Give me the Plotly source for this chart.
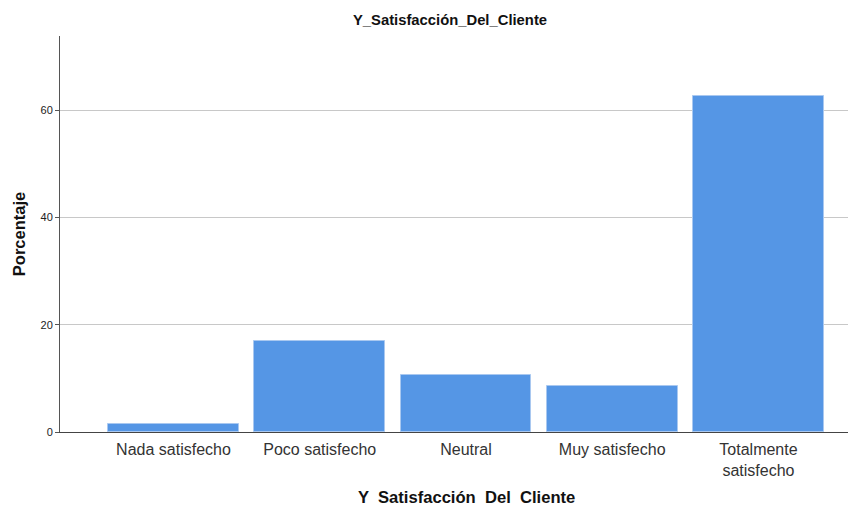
import plotly.graph_objects as go

categorias = ["Nada satisfecho", "Poco satisfecho", "Neutral", "Muy satisfecho", "Totalmente<br>satisfecho"]
porcentaje = [1.4, 16.9, 10.6, 8.5, 62.7]
y_ticks = [0, 20, 40, 60]

fig = go.Figure(go.Bar(
    x=categorias, y=porcentaje,
    width=0.895,
    marker=dict(color="#5596E5", line=dict(color="#A9C8F0", width=1)),
))

# page body has an 8px margin, so the figure is sized/offset to compensate
fig.update_layout(
    width=856, height=498,
    margin=dict(l=52, r=8, t=28, b=74),
    paper_bgcolor="white", plot_bgcolor="white",
    font=dict(family="Liberation Sans, Arial, sans-serif", color="#222"),
    title=dict(text="<b>Y_Satisfacción_Del_Cliente</b>", x=442 / 856, xanchor="center",
               y=0.976, yanchor="middle", font=dict(size=14.8, color="#111")),
    showlegend=False,
    bargap=0,
    annotations=[dict(
        text="<b>Y  Satisfacción  Del  Cliente</b>", xref="paper", yref="paper",
        x=(466 - 60) / 796, y=-0.165, xanchor="center", yanchor="middle",
        showarrow=False, font=dict(size=16.6, color="#111"),
    )],
)

fig.update_xaxes(
    type="category", range=[-0.776, 4.667],
    showline=True, linecolor="#444", linewidth=1,
    showgrid=False, ticks="", automargin=False,
    tickfont=dict(size=16, color="#333"), ticklabelstandoff=3,
)
fig.update_yaxes(
    range=[0, 73.8], tickvals=y_ticks,
    showline=True, linecolor="#555", linewidth=1,
    showgrid=True, gridcolor="#C8C8C8", gridwidth=1,
    ticks="outside", ticklen=4, tickcolor="#555",
    tickfont=dict(size=11, color="#222"),
    zeroline=False, automargin=False,
    title=dict(text="<b>Porcentaje</b>", font=dict(size=16.5, color="#111"), standoff=10),
)

fig.write_html("out.html")
